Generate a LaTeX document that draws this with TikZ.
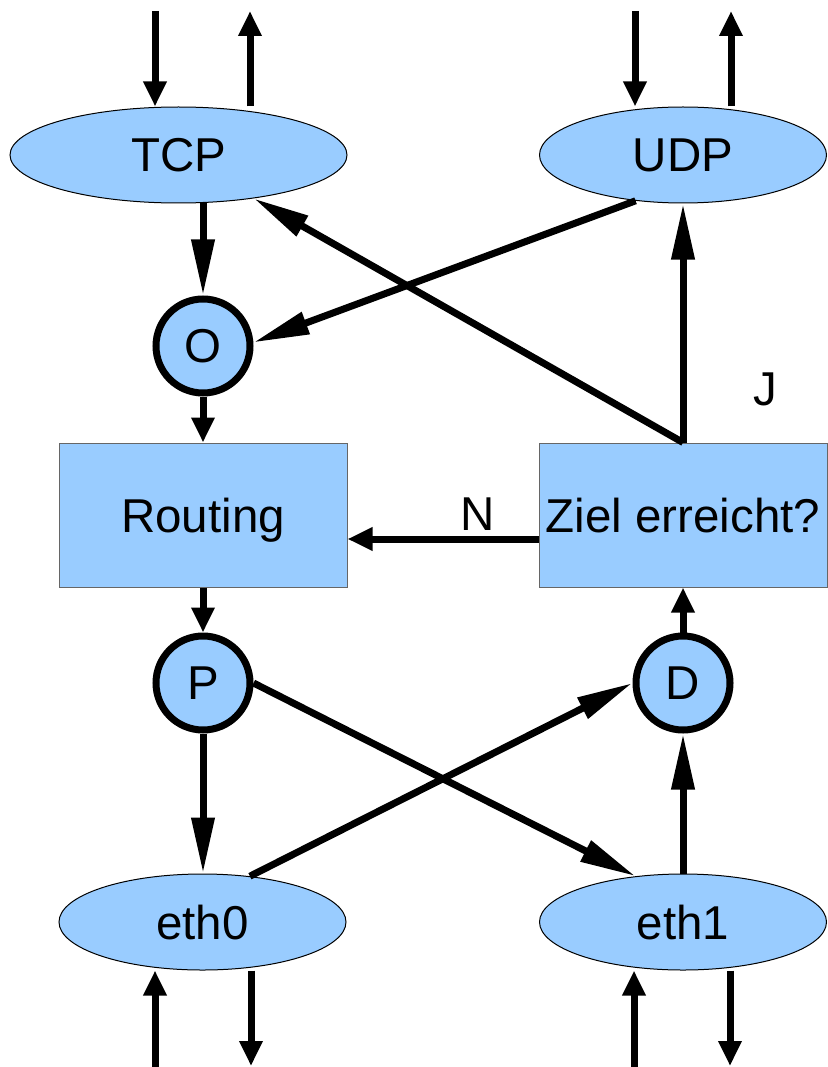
\documentclass[tikz,border=0pt]{standalone}
\usepackage{fontspec}
\setmainfont{Liberation Sans}
\usetikzlibrary{arrows.meta,shapes.geometric,calc}
\definecolor{fillblue}{HTML}{99CCFF}
\begin{document}
\begin{tikzpicture}[x=1pt,y=-1pt,
  every node/.style={font=\fontsize{47.5}{57}\selectfont, inner sep=0pt, text depth=0pt},
  ell/.style={ellipse, draw=black, line width=1pt, fill=fillblue, minimum height=96pt},
  box/.style={rectangle, draw=black!60, line width=1pt, fill=fillblue, minimum width=288pt, minimum height=144pt},
  junc/.style={circle, draw=black, line width=7pt, fill=fillblue, minimum size=94pt},
  conn/.style={line width=7pt, -{Triangle[length=56pt,width=22pt]}},
  shortconn/.style={line width=7pt, -{Triangle[length=25pt,width=22pt]}}]
\useasboundingbox (0,0) rectangle (827,1067);

% nodes
\node[ell, minimum width=337pt] (tcp) at (178.5,155) {TCP};
\node[ell, minimum width=287pt] (udp) at (683,155) {UDP};
\node[ell, minimum width=287pt] (eth0) at (202.5,922) {eth0};
\node[ell, minimum width=287pt] (eth1) at (683,922) {eth1};
\node[box] (routing) at (203,515) {Routing};
\node[box] (ziel) at (683,515) {Ziel erreicht?};
\node[junc] (o) at (203,346) {O};
\node[junc] (p) at (203,683) {P};
\node[junc] (d) at (683,683) {D};
\node (n) at (478,514) {N};
\node (j) at (765,389) {J};

% free ends
\coordinate (tcpin) at (155,11);
\coordinate (tcpout) at (250,11);
\coordinate (udpin) at (635,11);
\coordinate (udpout) at (731,11);
\coordinate (eth0in) at (155,1067);
\coordinate (eth0out) at (251,1066);
\coordinate (eth1in) at (634,1067);
\coordinate (eth1out) at (730,1066);

% external connectors
\draw[shortconn] (tcpin) -- (tcpin |- tcp.north);
\draw[shortconn] (tcpout |- tcp.north) -- (tcpout);
\draw[shortconn] (udpin) -- (udpin |- udp.north);
\draw[shortconn] (udpout |- udp.north) -- (udpout);
\draw[shortconn] (eth0in) -- (eth0in |- eth0.south);
\draw[shortconn] (eth0out |- eth0.south) -- (eth0out);
\draw[shortconn] (eth1in) -- (eth1in |- eth1.south);
\draw[shortconn] (eth1out |- eth1.south) -- (eth1out);

% internal connectors
\draw[conn] (o.north |- tcp.south) -- (o.north);
\draw[conn] (udp.224) -- (o.4);
\draw[conn] (ziel.north) -- (udp.south);
\draw[conn] (ziel.north) -- (tcp.-30);
\draw[shortconn] (o.south) -- (routing.north);
\draw[shortconn] ($(ziel.west)+(0,24)$) -- ($(routing.east)+(0,24)$);
\draw[shortconn] (routing.south) -- (p.north);
\draw[conn] (p.south) -- (p.south |- eth0.north);
\draw[conn] (p.east) -- (eth1.136);
\draw[conn] (eth0.44) -- (d.west);
\draw[conn] (eth1.north) -- (d.south);
\draw[shortconn] (d.north) -- (ziel.south);
\end{tikzpicture}
\end{document}
